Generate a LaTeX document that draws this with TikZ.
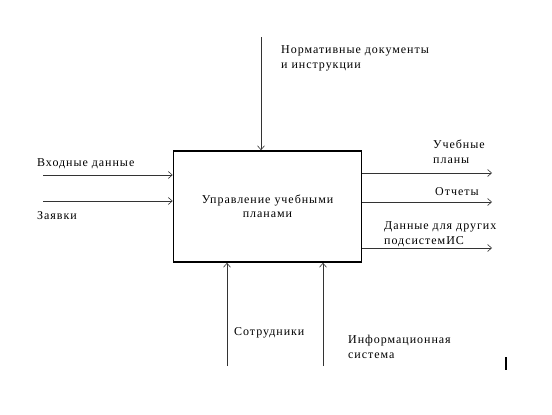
\documentclass[tikz,border=0pt]{standalone}
\usepackage{fontspec}
\setmainfont{Liberation Serif}[LetterSpace=8]
\usetikzlibrary{arrows.meta}
\begin{document}
\begin{tikzpicture}[x=1pt,y=-1pt,
  lbl/.style={anchor=base west,inner sep=0pt,font=\fontsize{12}{14.5}\selectfont,align=left},
  flow/.style={draw=black!80,line width=0.7pt,-{Straight Barb[length=4pt,width=7pt,line width=0.6pt]}},
  proc/.style={draw=black,line width=1.6pt,minimum width=188pt,minimum height=111pt,inner sep=0pt,align=center,font=\fontsize{12}{13.5}\selectfont}]
\useasboundingbox (0,0) rectangle (552,415);
\node[proc] (box) at (267.5,206.5) {Управление учебными\\планами};
% inputs
\coordinate (in1) at (43,175);
\coordinate (in2) at (43,201);
\draw[flow] (in1) -- (in1 -| box.west);
\draw[flow] (in2) -- (in2 -| box.west);
\node[lbl] (lin1) at (37,166) {Входные данные};
\node[lbl] (lin2) at (37,219) {Заявки};
% control
\coordinate (ctl) at (261,37);
\draw[flow] (ctl) -- (ctl |- box.north);
\node[lbl] (lctl) at (281,68) {Нормативные документы\\и инструкции};
% outputs
\coordinate (o1) at (492,173);
\coordinate (o2) at (492,202);
\coordinate (o3) at (492,248);
\draw[flow] (o1 -| box.east) -- (o1);
\draw[flow] (o2 -| box.east) -- (o2);
\draw[flow] (o3 -| box.east) -- (o3);
\node[lbl] (lo1) at (433,163) {Учебные\\планы};
\node[lbl] (lo2) at (435,195) {Отчеты};
\node[lbl] (lo3) at (384,244) {Данные для других\\подсистемИС};
% mechanisms
\coordinate (m1) at (227,366);
\coordinate (m2) at (323,366);
\draw[flow] (m1) -- (m1 |- box.south);
\draw[flow] (m2) -- (m2 |- box.south);
\node[lbl] (lm1) at (234,335) {Сотрудники};
\node[lbl] (lm2) at (348,358) {Информационная\\система};
% stray cursor mark
\draw[line width=1.3pt] (506,357) -- (506,370);
\end{tikzpicture}
\end{document}
